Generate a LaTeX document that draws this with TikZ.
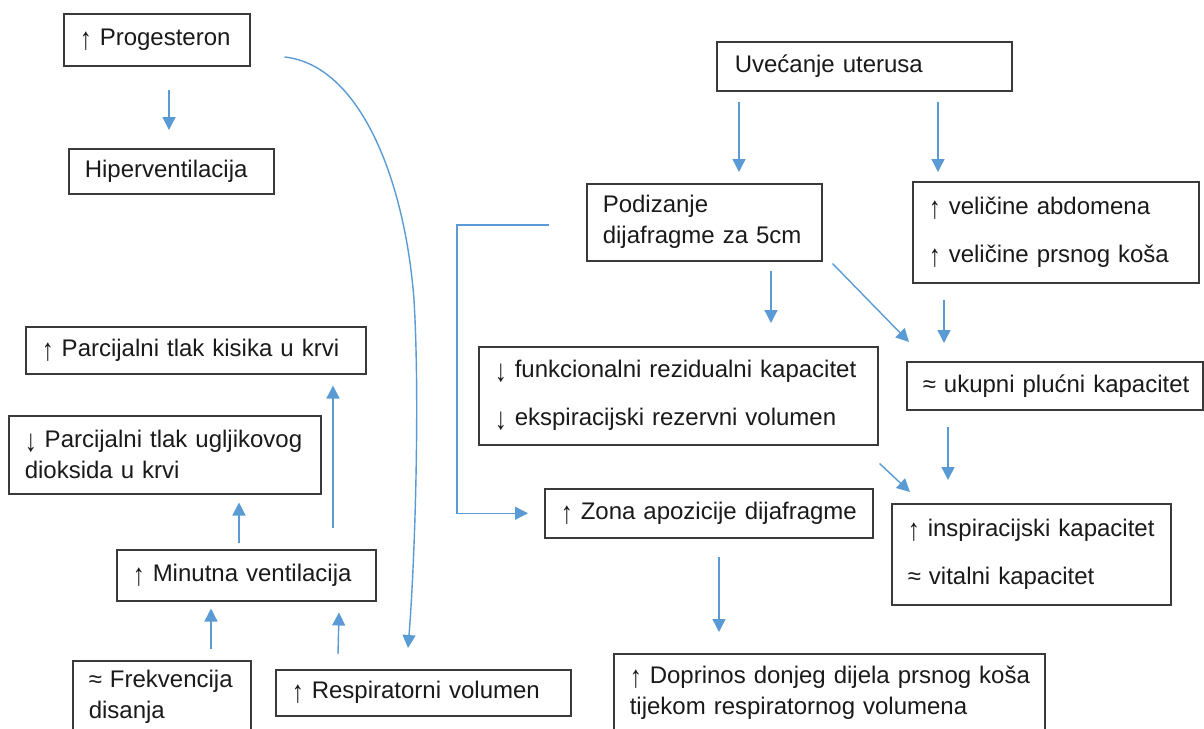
\documentclass[tikz,border=0pt]{standalone}
\usepackage{fontspec}
\usepackage{graphicx}
\setmainfont{Liberation Sans}
\usetikzlibrary{arrows.meta,calc}
\definecolor{arrc}{HTML}{5B9BD5}
\definecolor{boxc}{HTML}{3A3A3A}
\definecolor{txt}{HTML}{1A1A1A}
\newcommand{\fs}{\fontsize{12}{15.5}\selectfont}
\newcommand{\upa}{\raisebox{-0.16em}{\scalebox{1}[1.3]{↑}}}
\newcommand{\dna}{\raisebox{-0.16em}{\scalebox{1}[1.3]{↓}}}
\tikzset{
  box/.style={draw=boxc, line width=0.75pt, anchor=north west, align=left,
    inner xsep=8pt, inner ysep=0pt, text=txt, font=\fs},
  arr/.style={draw=arrc, line width=0.7pt, -{Triangle[length=6.5pt,width=6.5pt]}}
}
\begin{document}
\begin{tikzpicture}[x=0.5pt,y=-0.5pt]
\useasboundingbox (0,0) rectangle (1204,728);
\clip (0,0) rectangle (1204,728);
\fill[white] (0,0) rectangle (1204,728);
% boxes
\node[box, text width=77pt, minimum height=26pt] (prog) at (63,13) {\mbox{\upa\ Progesteron}};
\node[box, text width=86.5pt, minimum height=22.5pt] (hyp) at (68,148) {\mbox{Hiperventilacija}};
\node[box, text width=129.5pt, minimum height=24.5pt, inner xsep=9pt] (uve) at (716,41) {\mbox{Uvećanje uterusa}};
\node[box, text width=101.5pt, minimum height=38.5pt] (pod) at (586,183) {\mbox{Podizanje}\\\mbox{dijafragme za 5cm}};
\node[box, text width=127pt, minimum height=50.5pt] (vel) at (912,181) {\mbox{\upa\ veličine abdomena}\\[8.5pt]\mbox{\upa\ veličine prsnog koša}};
\node[box, text width=183.5pt, minimum height=49pt] (fun) at (478,346) {\mbox{\dna\ funkcionalni rezidualni kapacitet}\\[8.5pt]\mbox{\dna\ ekspiracijski rezervni volumen}};
\node[box, text width=132pt, minimum height=24pt] (uku) at (906,361) {\mbox{≈ ukupni plućni kapacitet}};
\node[box, text width=148pt, minimum height=24.5pt] (zon) at (544,488) {\mbox{\upa\ Zona apozicije dijafragme}};
\node[box, text width=123.5pt, minimum height=50.5pt] (ins) at (891,503) {\mbox{\upa\ inspiracijski kapacitet}\\[8.5pt]\mbox{≈ vitalni kapacitet}};
\node[box, text width=199.5pt, minimum height=39pt] (dop) at (613,653) {\mbox{\upa\ Doprinos donjeg dijela prsnog koša}\\\mbox{tijekom respiratornog volumena}};
\node[box, text width=154pt, minimum height=23.5pt] (kis) at (25,326) {\mbox{\upa\ Parcijalni tlak kisika u krvi}};
\node[box, text width=140pt, minimum height=39pt] (co2) at (8,415) {\mbox{\dna\ Parcijalni tlak ugljikovog}\\\mbox{dioksida u krvi}};
\node[box, text width=113.5pt, minimum height=25.5pt] (min) at (116,549) {\mbox{\upa\ Minutna ventilacija}};
\node[box, text width=73pt, minimum height=36.5pt] (fre) at (72,660) {\mbox{≈ Frekvencija}\\\mbox{disanja}};
\node[box, text width=131.5pt, minimum height=23pt] (res) at (275,669) {\mbox{\upa\ Respiratorni volumen}};
% connectors
\draw[arr] ($(prog.south west)+(106,23)$) -- ($(hyp.north west)+(101,-18)$);
\draw[arr] ($(prog.north east)+(34,44)$) .. controls (360,65) and (405,180) .. (414,300)
  .. controls (420,400) and (415,560) .. ($(res.north west)+(133,-21)$);
\draw[arr] ($(uve.south west)+(23,10)$) -- ($(pod.north west)+(153,-11)$);
\draw[arr] ($(uve.south west)+(222,10)$) -- ($(vel.north west)+(26,-9)$);
\draw[arr] ($(pod.south west)+(185,9)$) -- ($(fun.north west)+(293,-23)$);
\draw[arr] ($(pod.south east)+(10,2)$) -- ($(uku.north west)+(3,-19)$);
\draw[arr] ($(vel.south west)+(32,16)$) -- ($(uku.north west)+(38,-18)$);
\draw[arr] ($(uku.south west)+(42,16)$) -- ($(ins.north west)+(57,-23)$);
\draw[arr] ($(fun.south east)+(1,18)$) -- ($(ins.north west)+(19,-11)$);
\draw[arr] ($(pod.north west)+(-37,42)$) -- ++(-92,0) |- ($(zon.west)+(-16,0)$);
\draw[arr] ($(zon.south west)+(175,18)$) -- ($(dop.north west)+(106,-21)$);
\draw[arr] ($(min.north west)+(123,-6)$) -- ($(co2.south west)+(231,8)$);
\draw[arr] ($(min.north west)+(217,-21)$) -- ($(kis.south west)+(308,11)$);
\draw[arr] ($(fre.north west)+(139,-11)$) -- ($(min.south west)+(95,7)$);
\draw[arr] ($(res.north west)+(63,-15)$) -- ($(min.south west)+(223,11)$);
\end{tikzpicture}
\end{document}
